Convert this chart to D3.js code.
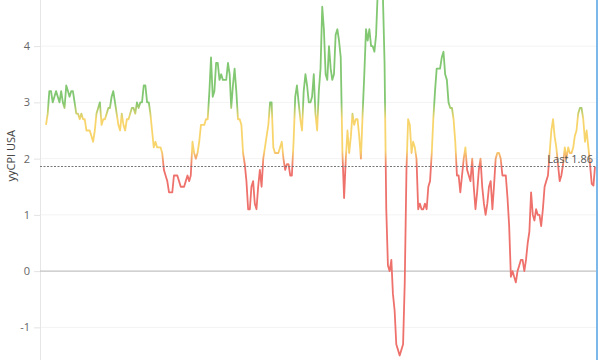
<!DOCTYPE html>
<html>
<head>
<meta charset="utf-8">
<script src="https://cdn.jsdelivr.net/npm/d3@7"></script>
<style>
    body { margin: 0; background: #fff; }
    svg { display: block; font-family: 'Open Sans', sans-serif; }
</style>
</head>
<body>
<svg id="chart"></svg>
<script>
// yoy CPI USA, monthly, Jan 1992 .. Mar 2019
const firstMonth = new Date(1992, 0, 1);
const lastMonth = new Date(2019, 2, 1);
const yoyValues = [
    2.6, 2.8, 3.2, 3.2, 3.0, 3.1, 3.2, 3.1, 3.0, 3.2, 3.0, 2.9,   // 1992
    3.3, 3.2, 3.1, 3.2, 3.2, 3.0, 2.8, 2.8, 2.7, 2.8, 2.7, 2.7,   // 1993
    2.5, 2.5, 2.5, 2.4, 2.3, 2.5, 2.8, 2.9, 3.0, 2.6, 2.7, 2.7,   // 1994
    2.8, 2.9, 2.9, 3.1, 3.2, 3.0, 2.8, 2.6, 2.5, 2.8, 2.6, 2.5,   // 1995
    2.7, 2.7, 2.8, 2.9, 2.9, 2.8, 3.0, 2.9, 3.0, 3.0, 3.3, 3.3,   // 1996
    3.0, 3.0, 2.8, 2.5, 2.2, 2.3, 2.2, 2.2, 2.2, 2.1, 1.8, 1.7,   // 1997
    1.6, 1.4, 1.4, 1.4, 1.7, 1.7, 1.7, 1.6, 1.5, 1.5, 1.5, 1.6,   // 1998
    1.7, 1.6, 1.7, 2.3, 2.1, 2.0, 2.1, 2.3, 2.6, 2.6, 2.6, 2.7,   // 1999
    2.7, 3.2, 3.8, 3.1, 3.2, 3.7, 3.7, 3.4, 3.5, 3.4, 3.4, 3.4,   // 2000
    3.7, 3.5, 2.9, 3.3, 3.6, 3.2, 2.7, 2.7, 2.6, 2.1, 1.9, 1.6,   // 2001
    1.1, 1.1, 1.5, 1.6, 1.2, 1.1, 1.5, 1.8, 1.5, 2.0, 2.2, 2.4,   // 2002
    2.6, 3.0, 3.0, 2.2, 2.1, 2.1, 2.1, 2.2, 2.3, 2.0, 1.8, 1.9,   // 2003
    1.9, 1.7, 1.7, 2.3, 3.1, 3.3, 3.0, 2.7, 2.5, 3.2, 3.5, 3.3,   // 2004
    3.0, 3.0, 3.1, 3.5, 2.8, 2.5, 3.2, 3.6, 4.7, 4.3, 3.5, 3.4,   // 2005
    4.0, 3.6, 3.4, 3.5, 4.2, 4.3, 4.1, 3.8, 2.1, 1.3, 2.0, 2.5,   // 2006
    2.1, 2.4, 2.8, 2.6, 2.7, 2.7, 2.4, 2.0, 2.8, 3.5, 4.3, 4.1,   // 2007
    4.3, 4.0, 4.0, 3.9, 4.2, 5.0, 5.6, 5.4, 4.9, 3.7, 1.1, 0.1,   // 2008
    0.0, 0.2, -0.4, -0.7, -1.3, -1.4, -1.5, -1.4, -1.3, -0.2, 1.8, 2.7, // 2009
    2.6, 2.1, 2.3, 2.2, 2.0, 1.1, 1.2, 1.1, 1.1, 1.2, 1.1, 1.5,   // 2010
    1.6, 2.1, 2.7, 3.2, 3.6, 3.6, 3.6, 3.8, 3.9, 3.5, 3.4, 3.0,   // 2011
    2.9, 2.9, 2.7, 2.3, 1.7, 1.7, 1.4, 1.7, 2.0, 2.2, 1.8, 1.7,   // 2012
    1.6, 2.0, 1.5, 1.1, 1.4, 1.8, 2.0, 1.5, 1.2, 1.0, 1.2, 1.5,   // 2013
    1.6, 1.1, 1.5, 2.0, 2.1, 2.1, 2.0, 1.7, 1.7, 1.7, 1.3, 0.8,   // 2014
    -0.1, 0.0, -0.1, -0.2, 0.0, 0.1, 0.2, 0.2, 0.0, 0.2, 0.5, 0.7, // 2015
    1.4, 1.0, 0.9, 1.1, 1.0, 1.0, 0.8, 1.1, 1.5, 1.6, 1.7, 2.1,   // 2016
    2.5, 2.7, 2.4, 2.2, 1.9, 1.6, 1.7, 1.9, 2.2, 2.0, 2.2, 2.1,   // 2017
    2.1, 2.2, 2.4, 2.5, 2.8, 2.9, 2.9, 2.7, 2.3, 2.5, 2.2, 1.9,   // 2018
    1.55, 1.52, 1.86                                              // 2019
];
const yTicks = [-1, 0, 1, 2, 3, 4];
const axisTitle = 'yyCPI USA';
const lastLabel = 'Last';
const lastValue = 1.86;

// colour bands by value (green high, yellow middle, red low)
const bandValues = [3.0, 2.7, 2.15, 1.85];
const bandColors = ['#82c771', '#f8d56c', '#f8d56c', '#ee716c'];

class CpiChart {
    constructor (config) {
        this.config = {
            parent: config.parent,
            width: config.width || 600,
            height: config.height || 360,
            left: 40,
            right: 598
        };
        this.init();
    }

    init() {
        let self = this;
        self.svg = d3.select(self.config.parent)
            .attr('width', self.config.width)
            .attr('height', self.config.height);

        self.months = d3.timeMonth.range(firstMonth, d3.timeMonth.offset(lastMonth, 1));
        self.data = self.months.map((m, i) => ({date: m, value: yoyValues[i]}));

        self.x = d3.scaleTime()
            .domain([firstMonth, lastMonth])
            .range([46, 595]);
        self.y = d3.scaleLinear()
            .domain([-1.58, 4.82])
            .range([self.config.height, 0]);

        self.render();
    }

    render() {
        let self = this;
        const L = self.config.left, R = self.config.right, H = self.config.height;

        let defs = self.svg.append('defs');
        defs.append('clipPath').attr('id', 'plotclip')
            .append('rect')
            .attr('x', L).attr('y', 0)
            .attr('width', R - L).attr('height', H);

        let grad = defs.append('linearGradient')
            .attr('id', 'valgrad')
            .attr('gradientUnits', 'userSpaceOnUse')
            .attr('x1', 0).attr('x2', 0)
            .attr('y1', self.y(bandValues[0]))
            .attr('y2', self.y(bandValues[bandValues.length - 1]));
        const span = self.y(bandValues[bandValues.length - 1]) - self.y(bandValues[0]);
        grad.selectAll('stop')
            .data(bandValues)
            .enter()
            .append('stop')
            .attr('offset', d => (self.y(d) - self.y(bandValues[0])) / span)
            .attr('stop-color', (d, i) => bandColors[i]);

        // grid
        self.svg.append('g')
            .selectAll('line')
            .data(yTicks.filter(t => t !== 0))
            .enter()
            .append('line')
            .attr('x1', L).attr('x2', R)
            .attr('y1', d => self.y(d)).attr('y2', d => self.y(d))
            .attr('stroke', '#f3f3f3')
            .attr('stroke-width', 1);

        // y axis
        let axis = self.svg.append('g')
            .attr('transform', `translate(${L},0)`)
            .call(d3.axisLeft(self.y).tickValues(yTicks).tickSize(6).tickPadding(4)
                .tickFormat(d => d));
        axis.select('.domain').remove();
        axis.selectAll('.tick line').attr('stroke', '#e3e3e3');
        axis.selectAll('.tick text')
            .attr('fill', '#666')
            .style('font-size', '11px')
            .style('font-family', "'Open Sans', sans-serif");

        self.svg.append('line')
            .attr('x1', L + 0.5).attr('x2', L + 0.5)
            .attr('y1', 0).attr('y2', H)
            .attr('stroke', '#e6e6e6');

        self.svg.append('text')
            .attr('transform', `translate(15,${self.y(2.05)}) rotate(-90)`)
            .attr('text-anchor', 'middle')
            .attr('fill', '#444')
            .style('font-size', '11px')
            .text(axisTitle);

        // zero line
        self.svg.append('line')
            .attr('x1', L).attr('x2', R)
            .attr('y1', self.y(0)).attr('y2', self.y(0))
            .attr('stroke', '#c2c2c2')
            .attr('stroke-width', 1.2);

        // series
        let line = d3.line()
            .x(d => self.x(d.date))
            .y(d => self.y(d.value));

        self.svg.append('path')
            .datum(self.data)
            .attr('clip-path', 'url(#plotclip)')
            .attr('d', line)
            .attr('fill', 'none')
            .attr('stroke', 'url(#valgrad)')
            .attr('stroke-width', 1.8)
            .attr('stroke-linejoin', 'round');

        // last value
        self.svg.append('line')
            .attr('x1', L).attr('x2', R)
            .attr('y1', self.y(lastValue)).attr('y2', self.y(lastValue))
            .attr('stroke', '#777')
            .attr('stroke-width', 1)
            .attr('stroke-dasharray', '2,1.5');

        self.svg.append('text')
            .attr('x', 593)
            .attr('y', self.y(lastValue) - 4)
            .attr('text-anchor', 'end')
            .attr('fill', '#555')
            .style('font-size', '11px')
            .text(`${lastLabel} ${lastValue}`);

        // right edge marker
        self.svg.append('line')
            .attr('x1', 597).attr('x2', 597)
            .attr('y1', 0).attr('y2', H)
            .attr('stroke', '#7db8ea')
            .attr('stroke-width', 2);
    }
}

new CpiChart({parent: '#chart', width: 600, height: 360});
</script>
</body>
</html>
